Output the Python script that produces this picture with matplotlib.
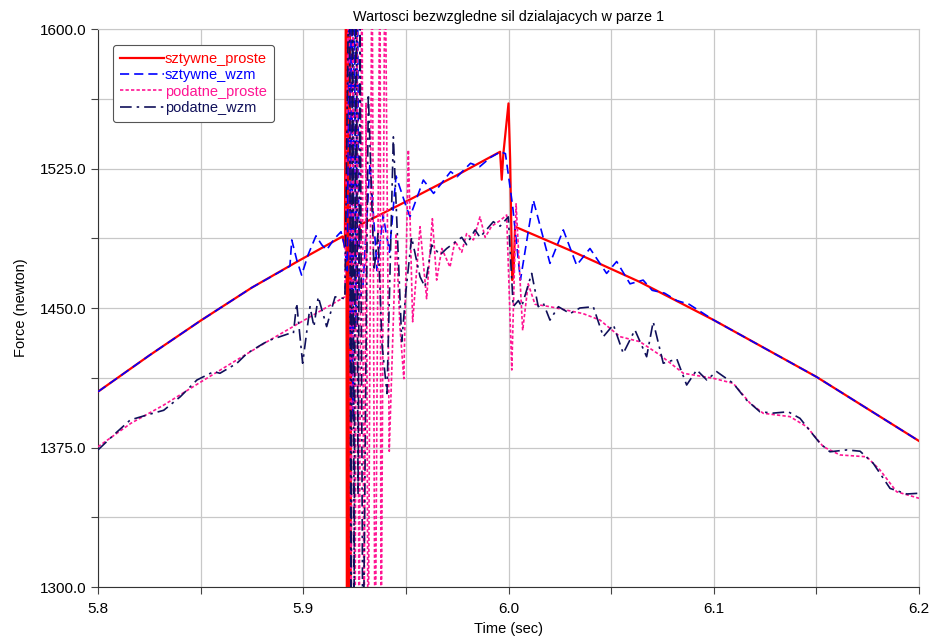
import matplotlib
matplotlib.use("Agg")
import matplotlib.pyplot as plt
import numpy as np

plt.rcParams['font.family'] = ['Liberation Sans', 'DejaVu Sans']

title = "Wartosci bezwzgledne sil dzialajacych w parze 1"
xlabel = "Time (sec)"
ylabel = "Force (newton)"

# sztywne_proste
t_sp = [5.800, 5.825, 5.850, 5.875, 5.897, 5.9192, 5.9203, 5.9209, 5.9213, 5.9217, 5.9221,
        5.9225, 5.9229, 5.9233, 5.9250, 5.9260, 5.9270, 5.9277, 5.9500, 5.9750, 5.9959,
        5.9967, 5.9975, 6.0000, 6.0008, 6.0018, 6.0025, 6.0032, 6.0300, 6.0640, 6.1000,
        6.1500, 6.2000]
f_sp = [1405.0, 1424.5, 1443.2, 1461.0, 1474.9, 1488.5, 1482.5, 1660, 1240, 1660, 1240,
        1660, 1240, 1478, 1484, 1483, 1484, 1494.7, 1507.2, 1521.5, 1534.0,
        1519.0, 1533.0, 1560.0, 1530.0, 1465.0, 1470.0, 1493.7, 1481.0, 1464.0, 1443.5,
        1413.0, 1378.5]

# sztywne_wzm
t_sw = [5.800, 5.825, 5.850, 5.875, 5.8935, 5.8944, 5.8968, 5.8992, 5.9025, 5.9062, 5.9090,
        5.9114, 5.9150, 5.9184, 5.9200, 5.9215, 5.9225, 5.9230, 5.9236, 5.9242, 5.9248,
        5.9256, 5.9264, 5.9272, 5.9290, 5.9325, 5.9360, 5.9389, 5.9420, 5.9452, 5.9500,
        5.9520, 5.9585, 5.9635, 5.9718, 5.9750, 5.9815, 5.9860, 5.9913, 5.9962, 5.9985,
        6.0020, 6.0058, 6.0121, 6.0202, 6.0267, 6.0332, 6.0397, 6.0478, 6.0527, 6.0592,
        6.0656, 6.0700, 6.0760, 6.0820, 6.0880, 6.1000, 6.1500, 6.2000]
f_sw = [1405.0, 1424.5, 1443.2, 1461.0, 1472.5, 1486.6, 1476.0, 1467.7, 1479.0, 1488.8, 1484.0,
        1481.2, 1487.0, 1491.0, 1484.0, 1470.0, 1660, 1420, 1660, 1390, 1660,
        1440, 1640, 1455, 1460, 1528, 1470, 1500, 1480, 1521, 1505,
        1499, 1518.8, 1511.6, 1523.3, 1520.6, 1527.8, 1526.0, 1531.0, 1534.0, 1533.0,
        1505.0, 1465.0, 1508.0, 1474.0, 1492.0, 1473.0, 1482.0, 1468.6, 1475.0, 1463.0,
        1465.0, 1459.5, 1458.0, 1454.0, 1452.0, 1443.5, 1413.0, 1378.5]

# podatne_proste
t_pp = [5.800, 5.816, 5.832, 5.849, 5.865, 5.881, 5.8966, 5.9203, 5.9223, 5.9233, 5.9242,
        5.9252, 5.9262, 5.9272, 5.9286, 5.9296, 5.9306, 5.9316, 5.9335, 5.9350, 5.9374,
        5.9379, 5.9398, 5.9419, 5.9452, 5.9471, 5.9490, 5.9512, 5.9533, 5.9569, 5.9601,
        5.9629, 5.9650, 5.9675, 5.9715, 5.9739, 5.9772, 5.9796, 5.9829, 5.9861, 5.9886,
        5.9918, 5.9959, 5.9991, 6.0016, 6.0037, 6.0069, 6.0096, 6.0129, 6.0202, 6.0363,
        6.0446, 6.0543, 6.0640, 6.0738, 6.0852, 6.0998, 6.1095, 6.1177, 6.1241, 6.1371,
        6.1453, 6.1534, 6.1615, 6.1745, 6.1810, 6.1891, 6.2000]
f_pp = [1375.4, 1388.0, 1397.8, 1409.5, 1420.3, 1431.0, 1441.0, 1456.0, 1660, 1240, 1660,
        1240, 1660, 1240, 1660, 1240, 1560, 1240, 1660, 1240, 1660,
        1240, 1660, 1373, 1490, 1440, 1412, 1535, 1442.6, 1493.7, 1455,
        1498, 1465, 1482, 1472, 1486, 1480, 1490, 1486.6, 1499, 1488,
        1494, 1497, 1500, 1416.7, 1506, 1438, 1463, 1452, 1450.7, 1447,
        1443.5, 1434.6, 1431.9, 1424.7, 1414.9, 1412.2, 1409.5, 1398.8, 1393.4, 1391.6,
        1386.2, 1375.4, 1371.0, 1370.0, 1362.9, 1351.2, 1347.7]

# podatne_wzm
t_pw = [5.800, 5.8076, 5.8157, 5.8239, 5.8320, 5.8401, 5.8482, 5.8564, 5.8594, 5.8677, 5.8726,
        5.8807, 5.8839, 5.8935, 5.8952, 5.8968, 5.8997, 5.9033, 5.9052, 5.9073, 5.9114,
        5.9155, 5.9203, 5.9225, 5.9233, 5.9240, 5.9248, 5.9257, 5.9267, 5.9277, 5.9291,
        5.9317, 5.9345, 5.9364, 5.9384, 5.9408, 5.9439, 5.9480, 5.9501, 5.9528, 5.9569,
        5.9593, 5.9626, 5.9666, 5.9699, 5.9772, 5.9796, 5.9837, 5.9861, 5.9926, 5.9959,
        5.9999, 6.0023, 6.0048, 6.0064, 6.0113, 6.0145, 6.0170, 6.0202, 6.0243, 6.0300,
        6.0348, 6.0413, 6.0462, 6.0511, 6.0559, 6.0616, 6.0673, 6.0705, 6.0754, 6.0820,
        6.0868, 6.0917, 6.0966, 6.1014, 6.1095, 6.1160, 6.1225, 6.1290, 6.1363, 6.1420,
        6.1518, 6.1566, 6.1648, 6.1713, 6.1777, 6.1859, 6.1940, 6.2000]
f_pw = [1373.7, 1381.7, 1389.8, 1392.5, 1395.0, 1402.3, 1411.3, 1415.8, 1414.9, 1420.3, 1425.6,
        1431.0, 1432.8, 1436.4, 1436.4, 1452.5, 1420.3, 1450.7, 1440.0, 1456.0, 1440.0,
        1456.0, 1455.0, 1660, 1240, 1660, 1300, 1660, 1350, 1600, 1240,
        1565, 1470, 1490, 1430, 1404, 1542, 1432, 1460, 1488, 1466.8,
        1461.4, 1483.9, 1478.5, 1482, 1488, 1484, 1492, 1488, 1496.4, 1494,
        1499, 1450.7, 1454, 1450.7, 1468.6, 1450.7, 1452.5, 1443.5, 1450.7, 1447,
        1450, 1450.7, 1434.6, 1441, 1425.6, 1438.2, 1423.8, 1442.6, 1420.3, 1422.6,
        1408.6, 1416.7, 1411.3, 1415.8, 1409.5, 1400.5, 1394.2, 1393.5, 1394.2, 1390.7,
        1377.2, 1372.7, 1373.7, 1373.0, 1366.5, 1353.0, 1350.0, 1350.4]

labels = ["sztywne_proste", "sztywne_wzm", "podatne_proste", "podatne_wzm"]
colors = ["#ff0000", "#0000ff", "#ff1493", "#10105a"]

x_ticks = [5.8, 5.85, 5.9, 5.95, 6.0, 6.05, 6.1, 6.15, 6.2]
x_ticklabels = ["5.8", "", "5.9", "", "6.0", "", "6.1", "", "6.2"]
y_ticks = [1300, 1337.5, 1375, 1412.5, 1450, 1487.5, 1525, 1562.5, 1600]
y_ticklabels = ["1300.0", "", "1375.0", "", "1450.0", "", "1525.0", "", "1600.0"]

fig = plt.figure(figsize=(9.3, 6.39), dpi=100)
ax = fig.add_axes([98/930, 52/639, 821/930, 558/639])

ax.plot(t_sp, f_sp, color=colors[0], lw=1.6, ls='-', label=labels[0], zorder=3)
ax.plot(t_sw, f_sw, color=colors[1], lw=1.2, ls=(0, (5.5, 3)), label=labels[1], zorder=4)
ax.plot(t_pp, f_pp, color=colors[2], lw=1.2, ls=(0, (2, 1.3)), label=labels[2], zorder=5)
ax.plot(t_pw, f_pw, color=colors[3], lw=1.2, ls=(0, (7, 3, 1.5, 3)), label=labels[3], zorder=6)

ax.set_xlim(5.8, 6.2)
ax.set_ylim(1300, 1600)
ax.set_xticks(x_ticks)
ax.set_xticklabels(x_ticklabels)
ax.set_yticks(y_ticks)
ax.set_yticklabels(y_ticklabels)
ax.tick_params(axis='both', direction='out', length=5, width=0.8, labelsize=11, color='#444444')
ax.tick_params(axis='x', pad=6)
ax.grid(True, color='#c8c8c8', lw=0.9)
ax.set_axisbelow(True)
for s in ['top', 'right']:
    ax.spines[s].set_color('#c8c8c8')
for s in ['left', 'bottom']:
    ax.spines[s].set_color('#333333')

ax.set_title(title, fontsize=10.4, pad=6)
ax.set_xlabel(xlabel, fontsize=10.5, labelpad=4)
ax.set_ylabel(ylabel, fontsize=10.5, labelpad=8)

leg = ax.legend(loc='upper left', bbox_to_anchor=(0.018, 0.972), borderaxespad=0,
                fontsize=10.5, labelcolor='linecolor', handlelength=3.0, handletextpad=0.05,
                labelspacing=0.16, borderpad=0.5, fancybox=True, framealpha=1,
                edgecolor='#555555')
leg.get_frame().set_linewidth(0.8)

fig.savefig("out.png", dpi=100)
